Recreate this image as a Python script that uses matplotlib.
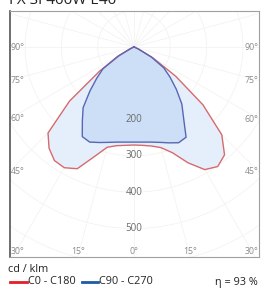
import numpy as np
import matplotlib
matplotlib.use("Agg")
import matplotlib.pyplot as plt

plt.rcParams['font.family'] = ['Open Sans', 'DejaVu Sans']

title = "FX SI 400W E40"
unit_label = "cd / klm"
eta_label = "η = 93 %"
series_names = ["C0 - C180", "C90 - C270"]

# gamma angles (deg from nadir)
angles = [0, 5, 10, 15, 20, 25, 30, 35, 40, 45, 50, 55, 60, 65, 70, 75, 80, 85, 90]
c0 = [270, 272, 277, 287, 310, 352, 390, 402, 388, 342, 248, 140, 60, 14, 3, 0, 0, 0, 0]
c180 = [270, 272, 276, 286, 322, 370, 384, 382, 364, 335, 232, 115, 45, 8, 2, 0, 0, 0, 0]
c90 = [262, 263, 266, 272, 281, 291, 287, 238, 205, 165, 130, 100, 55, 14, 3, 0, 0, 0, 0]
c270 = [262, 263, 266, 272, 280, 289, 285, 248, 218, 172, 134, 104, 52, 12, 3, 0, 0, 0, 0]

radial_ticks = [200, 300, 400, 500]
angle_ticks = [0, 15, 30, 45, 60, 75, 90]

W, H = 266, 291
fig = plt.figure(figsize=(W / 100, H / 100), dpi=100)
fig.patch.set_facecolor('white')

# axes box in pixels
L, R, T, B = 10, 259, 11, 257
cx, cy = 134, 47
s = 0.363  # px per cd/klm
ax = fig.add_axes([L / W, (H - B) / H, (R - L) / W, (B - T) / H])
xmin, xmax = (L - cx) / s, (R - cx) / s
ymin, ymax = -(B - cy) / s, (cy - T) / s
ax.set_xlim(xmin, xmax)
ax.set_ylim(ymin, ymax)
ax.set_xticks([]); ax.set_yticks([])
for sp in ax.spines.values():
    sp.set_color('#a0a0a0'); sp.set_linewidth(0.8)
ax.spines['left'].set_color('#555555'); ax.spines['left'].set_linewidth(1.2)

gc = '#f3f3f3'
# grid circles
t = np.linspace(0, 2 * np.pi, 400)
for r in range(100, 800, 100):
    ax.plot(r * np.sin(t), r * np.cos(t), color=gc, lw=0.6, zorder=0)
# grid rays
for a in range(0, 360, 15):
    ar = np.radians(a)
    ax.plot([0, 1000 * np.sin(ar)], [0, -1000 * np.cos(ar)], color=gc, lw=0.6, zorder=0)

def half(vals, side):
    th = np.radians(angles)
    v = np.array(vals, float)
    return side * v * np.sin(th), -v * np.cos(th)

def curve(right, left):
    xr, yr = half(right, 1)
    xl, yl = half(left, -1)
    x = np.concatenate([xl[::-1], xr])
    y = np.concatenate([yl[::-1], yr])
    return x, y

xr_, yr_ = curve(c0, c180)
xb_, yb_ = curve(c90, c270)
ax.fill(xr_, yr_, color='#e5effb', zorder=1, lw=0)
ax.fill(xb_, yb_, color='#cddff7', zorder=2, lw=0)
ax.plot(xr_, yr_, color='#d66a6c', lw=1.0, zorder=3)
ax.plot(xb_, yb_, color='#5866b4', lw=1.0, zorder=4)

lc = '#8c8c8c'
fs = 6.3
for r in radial_ticks:
    ax.text(0, -r, str(r), ha='center', va='center', fontsize=7, color='#6a6a6a', zorder=5)

pad = 0.5 / s
for a in angle_ticks:
    ar = np.radians(a)
    lab = f"{a}°"
    for side in (-1, 1):
        if a == 0 and side == 1:
            continue
        sx, cyv = np.sin(ar), np.cos(ar)
        xb = xmin if side < 0 else xmax
        if sx > 1e-9:
            tt = abs(xb) / sx
            yint = -tt * cyv
        else:
            yint = -1e9
        if yint >= ymin:
            ax.text(xb - side * pad, yint, lab, ha='left' if side < 0 else 'right', va='center',
                    fontsize=fs, color=lc, zorder=5)
        else:
            tt = -ymin / cyv
            xint = side * tt * sx
            ha = 'center'
            if xint - 8 / s < xmin:
                ha = 'left'; xint = xmin + pad
            if xint + 8 / s > xmax:
                ha = 'right'; xint = xmax - pad
            ax.text(xint, ymin + 1.5 / s, lab, ha=ha, va='bottom', fontsize=fs, color=lc, zorder=5)

# title (cut off at top, as in the reference)
fig.text(9 / W, 1 - 4 / H, title, ha='left', va='baseline', fontsize=11, color='#222222')
# unit label
fig.text(8 / W, 1 - 272 / H, unit_label, ha='left', va='baseline', fontsize=7.8, color='#222222')
# legend
ly = 1 - 282 / H
fig.add_artist(plt.Line2D([10 / W, 27 / W], [ly, ly], color='#e31e24', lw=2))
fig.text(28 / W, ly, series_names[0], ha='left', va='center', fontsize=7.8, color='#222222')
fig.add_artist(plt.Line2D([82 / W, 98 / W], [ly, ly], color='#1f5aa8', lw=2))
fig.text(99 / W, ly, series_names[1], ha='left', va='center', fontsize=7.8, color='#222222')
fig.text(258 / W, ly, eta_label, ha='right', va='center', fontsize=7.8, color='#222222')

fig.savefig('out.png', dpi=100, facecolor='white')
